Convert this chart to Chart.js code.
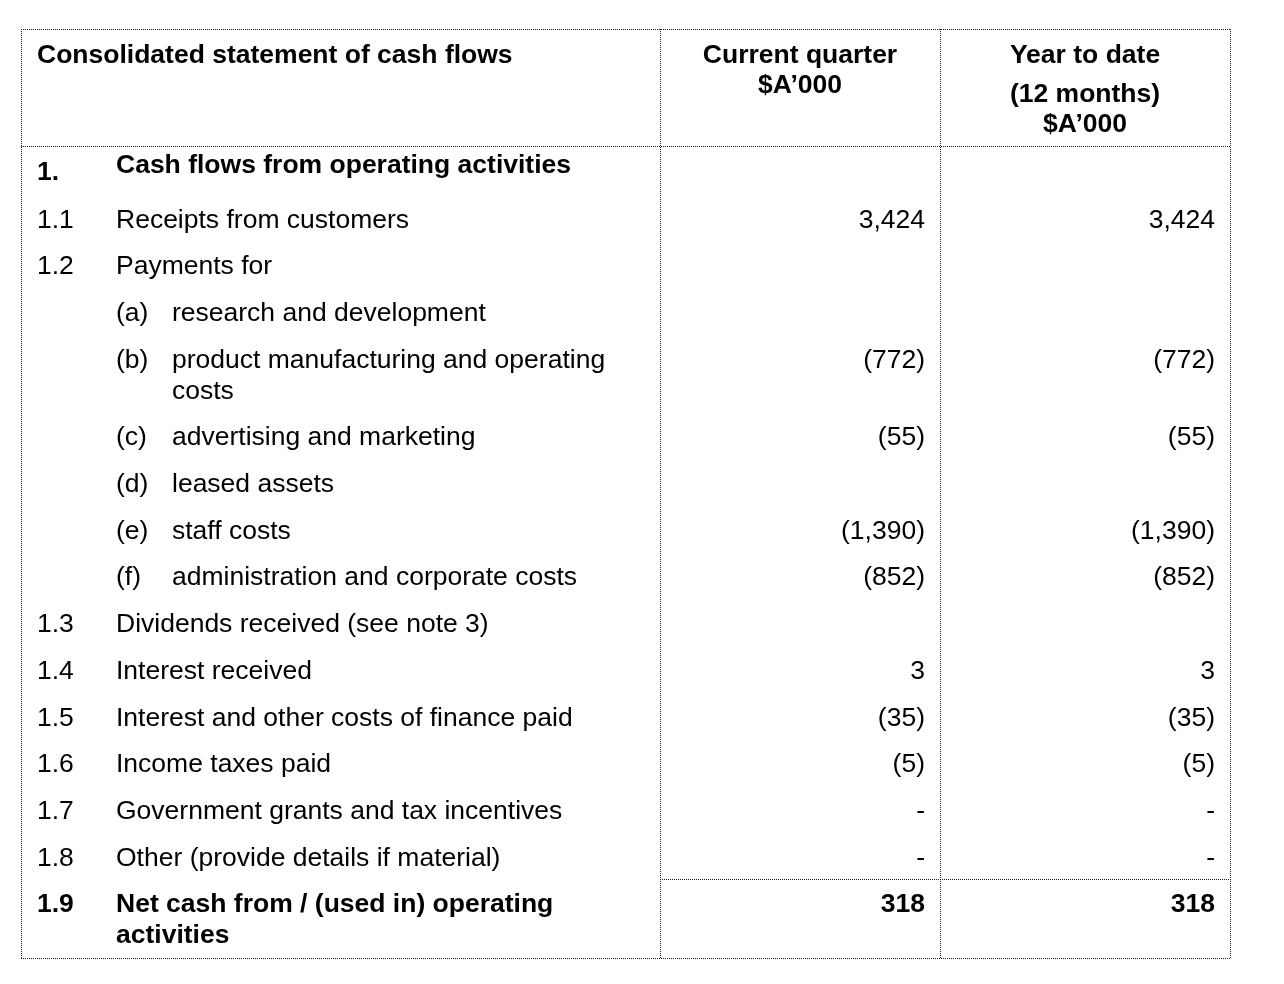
<!DOCTYPE html>
<html>
<head>
<meta charset="utf-8">
<script src="https://cdn.jsdelivr.net/npm/chart.js@4.4.1/dist/chart.umd.min.js"></script>
<style>
  html, body { margin: 0; padding: 0; background: #fff; }
  #wrap { width: 1284px; height: 984px; position: relative; }
</style>
</head>
<body>
<div id="wrap"><canvas id="myChart"></canvas></div>
<script>
// Datos de la tabla
const headerTitle = 'Consolidated statement of cash flows';
const headerCurrent = ['Current quarter', '$A’000'];
const headerYear = ['Year to date', '(12 months)', '$A’000'];
const sectionNumber = '1.';
const sectionTitle = 'Cash flows from operating activities';

const itemNumbers = ['1.1', '1.2', '', '', '', '', '', '', '1.3', '1.4', '1.5', '1.6', '1.7', '1.8', '1.9'];
const subLetters = ['', '', '(a)', '(b)', '(c)', '(d)', '(e)', '(f)', '', '', '', '', '', '', ''];
const itemLabels = [
    'Receipts from customers',
    'Payments for',
    'research and development',
    ['product manufacturing and operating', 'costs'],
    'advertising and marketing',
    'leased assets',
    'staff costs',
    'administration and corporate costs',
    'Dividends received (see note 3)',
    'Interest received',
    'Interest and other costs of finance paid',
    'Income taxes paid',
    'Government grants and tax incentives',
    'Other (provide details if material)',
    ['Net cash from / (used in) operating', 'activities']
];
const currentQuarter = [3424, null, null, -772, -55, null, -1390, -852, null, 3, -35, -5, 0, 0, 318];
const yearToDate = [3424, null, null, -772, -55, null, -1390, -852, null, 3, -35, -5, 0, 0, 318];
const boldRows = [14];

// Layout (coordenadas de página)
const FONT = '"Liberation Sans", Arial, Helvetica, sans-serif';
const SIZE = 26.5;
const LINE_H = 31;
const ROW_STEP = 46.7;
const FIRST_ROW = 227.5;
const colX = { left: 21, mid1: 660, mid2: 940, right: 1230 };
const rowLines = { top: 29, header: 146, total: 879, bottom: 958 };

function rowBaseline(i) {
    let y = FIRST_ROW + i * ROW_STEP;
    for (let k = 0; k < i; k++) {
        if (Array.isArray(itemLabels[k])) y += (itemLabels[k].length - 1) * LINE_H;
    }
    return y;
}

function formatValue(v) {
    if (v === null) return '';
    if (v === 0) return '-';
    const s = Math.abs(v).toLocaleString('en-US');
    return v < 0 ? '(' + s + ')' : s;
}

function column(xValue, texts) {
    return texts.map((t, i) => ({ x: xValue, y: rowBaseline(i), text: t, bold: boldRows.includes(i) }));
}

const datasets = [
    { label: 'numbers', data: column(37, itemNumbers), align: 'left' },
    { label: 'letters', data: column(116, subLetters), align: 'left' },
    { label: 'labels', data: itemLabels.map((t, i) => ({ x: subLetters[i] ? 172 : 116, y: rowBaseline(i), text: t, bold: boldRows.includes(i) })), align: 'left' },
    { label: 'current', data: column(925, currentQuarter.map(formatValue)), align: 'right' },
    { label: 'ytd', data: column(1215, yearToDate.map(formatValue)), align: 'right' }
].map(d => Object.assign(d, { pointRadius: 0, showLine: false }));

// Plugin que dibuja la tabla
const tablePlugin = {
    id: 'tablePlugin',
    afterDatasetsDraw(chart) {
        const ctx = chart.ctx;
        const xs = chart.scales.x, ys = chart.scales.y;
        const px = v => xs.getPixelForValue(v);
        const py = v => ys.getPixelForValue(v);

        ctx.save();
        // Líneas punteadas
        ctx.strokeStyle = '#222';
        ctx.lineWidth = 1;
        ctx.setLineDash([1, 1]);
        const hline = (x1, x2, y) => {
            ctx.beginPath();
            ctx.moveTo(px(x1), Math.round(py(y)) + 0.5);
            ctx.lineTo(px(x2), Math.round(py(y)) + 0.5);
            ctx.stroke();
        };
        const vline = (x, y1, y2) => {
            ctx.beginPath();
            ctx.moveTo(Math.round(px(x)) + 0.5, py(y1));
            ctx.lineTo(Math.round(px(x)) + 0.5, py(y2));
            ctx.stroke();
        };
        hline(colX.left, colX.right, rowLines.top);
        hline(colX.left, colX.right, rowLines.header);
        hline(colX.mid1, colX.right, rowLines.total);
        hline(colX.left, colX.right, rowLines.bottom);
        vline(colX.left, rowLines.top, rowLines.bottom);
        vline(colX.mid1, rowLines.top, rowLines.bottom);
        vline(colX.mid2, rowLines.top, rowLines.bottom);
        vline(colX.right, rowLines.top, rowLines.bottom);
        ctx.setLineDash([]);

        ctx.fillStyle = '#000';
        ctx.textBaseline = 'alphabetic';
        const bold = 'bold ' + SIZE + 'px ' + FONT;
        const normal = SIZE + 'px ' + FONT;

        // Encabezados
        ctx.font = bold;
        ctx.textAlign = 'left';
        ctx.fillText(headerTitle, px(37), py(63));
        ctx.textAlign = 'center';
        [63, 93].forEach((y, i) => ctx.fillText(headerCurrent[i], px((colX.mid1 + colX.mid2) / 2), py(y)));
        [63, 102, 132].forEach((y, i) => ctx.fillText(headerYear[i], px((colX.mid2 + colX.right) / 2), py(y)));
        ctx.textAlign = 'left';
        ctx.fillText(sectionNumber, px(37), py(180));
        ctx.fillText(sectionTitle, px(116), py(173));

        // Celdas desde los datasets
        chart.data.datasets.forEach((ds, di) => {
            const meta = chart.getDatasetMeta(di);
            ctx.textAlign = ds.align;
            meta.data.forEach((pt, i) => {
                const item = ds.data[i];
                const lines = Array.isArray(item.text) ? item.text : [item.text];
                ctx.font = item.bold ? bold : normal;
                lines.forEach((line, li) => ctx.fillText(line, pt.x, pt.y + li * LINE_H));
            });
        });
        ctx.restore();
    }
};

const ctx = document.getElementById('myChart').getContext('2d');
const chart = new Chart(ctx, {
    type: 'scatter',
    data: { datasets: datasets },
    options: {
        responsive: true,
        maintainAspectRatio: false,
        animation: false,
        layout: { padding: 0 },
        plugins: { legend: { display: false }, tooltip: { enabled: false } },
        scales: {
            x: { type: 'linear', min: 0, max: 1284, display: false },
            y: { type: 'linear', min: 0, max: 984, reverse: true, display: false }
        }
    },
    plugins: [tablePlugin]
});
</script>
</body>
</html>
